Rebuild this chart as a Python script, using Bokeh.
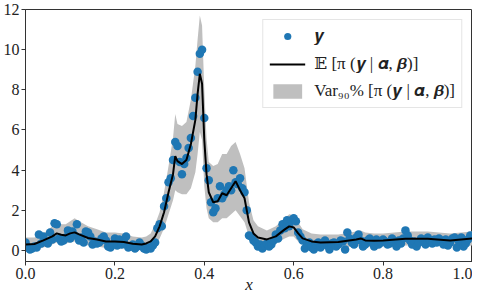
from bokeh.plotting import figure
from bokeh.models import (ColumnDataSource, Legend, LegendItem, FixedTicker,
                          PrintfTickFormatter, Range1d)
from bokeh.embed import file_html
from bokeh.resources import INLINE

# ---- observed points y ----
obs_x = [
    0.000, 0.005, 0.010, 0.015, 0.020, 0.025, 0.030, 0.035, 0.040, 0.045,
    0.050, 0.055, 0.060, 0.065, 0.070, 0.075, 0.080, 0.085, 0.090, 0.095,
    0.100, 0.105, 0.110, 0.115, 0.120, 0.125, 0.130, 0.135, 0.140, 0.145,
    0.150, 0.155, 0.160, 0.165, 0.170, 0.175, 0.180, 0.185, 0.190, 0.195,
    0.200, 0.205, 0.210, 0.215, 0.220, 0.225, 0.230, 0.235, 0.240, 0.245,
    0.250, 0.255, 0.260, 0.265, 0.270, 0.275, 0.280, 0.285, 0.290, 0.295,
    0.300, 0.305, 0.310, 0.315, 0.320, 0.325, 0.330, 0.335, 0.340, 0.345,
    0.350, 0.355, 0.360, 0.365, 0.370, 0.375, 0.380, 0.385, 0.390, 0.395,
    0.400, 0.405, 0.410, 0.415, 0.420, 0.425, 0.430, 0.435, 0.440, 0.445,
    0.450, 0.455, 0.460, 0.465, 0.470, 0.475, 0.480, 0.485, 0.490, 0.495,
    0.500, 0.505, 0.510, 0.515, 0.520, 0.525, 0.530, 0.535, 0.540, 0.545,
    0.550, 0.555, 0.560, 0.565, 0.570, 0.575, 0.580, 0.585, 0.590, 0.595,
    0.600, 0.605, 0.610, 0.615, 0.620, 0.625, 0.630, 0.635, 0.640, 0.645,
    0.650, 0.655, 0.660, 0.665, 0.670, 0.675, 0.680, 0.685, 0.690, 0.695,
    0.700, 0.705, 0.710, 0.715, 0.720, 0.725, 0.730, 0.735, 0.740, 0.745,
    0.750, 0.755, 0.760, 0.765, 0.770, 0.775, 0.780, 0.785, 0.790, 0.795,
    0.800, 0.805, 0.810, 0.815, 0.820, 0.825, 0.830, 0.835, 0.840, 0.845,
    0.850, 0.855, 0.860, 0.865, 0.870, 0.875, 0.880, 0.885, 0.890, 0.895,
    0.900, 0.905, 0.910, 0.915, 0.920, 0.925, 0.930, 0.935, 0.940, 0.945,
    0.950, 0.955, 0.960, 0.965, 0.970, 0.975, 0.980, 0.985, 0.990, 0.995,
]
obs_y = [
    0.40, 0.15, 0.05, 0.10, 0.20, 0.15, 0.80, 0.35, 0.70, 0.45,
    0.35, 0.90, 0.55, 1.35, 1.30, 0.60, 0.45, 0.50, 0.65, 1.00,
    0.60, 0.95, 0.75, 1.30, 0.50, 0.65, 0.40, 0.95, 0.90, 0.70,
    0.30, 0.45, 0.35, 0.40, 0.60, 0.70, 0.50, 0.20, 0.15, 0.30,
    0.60, 0.25, 0.55, 0.30, 0.45, 0.70, 0.15, 0.20, 0.30, 0.10,
    0.20, 0.40, 0.25, 0.10, 0.05, 0.15, 0.10, 0.25, 0.40, 1.10,
    1.30, 1.20, 2.20, 2.60, 3.40, 3.60, 4.50, 5.40, 5.20, 4.40,
    3.80, 4.30, 4.60, 5.10, 5.60, 6.70, 7.60, 8.90, 9.80, 10.00,
    6.60, 4.10, 3.50, 2.40, 1.90, 2.10, 2.60, 3.20, 2.60, 2.80,
    3.00, 3.20, 3.00, 4.00, 3.40, 3.30, 3.60, 3.10, 2.90, 2.00,
    0.75, 0.70, 0.50, 0.40, 0.20, 0.30, 0.10, 0.25, 0.35, 0.20,
    0.30, 0.50, 0.80, 0.60, 1.00, 1.30, 1.10, 1.50, 1.20, 1.50,
    1.60, 1.45, 0.90, 0.70, 0.50, 0.10, 0.25, 0.40, 0.15, 0.05,
    0.30, 0.40, 0.15, 0.30, 0.50, 0.25, 0.05, 0.35, 0.40, 0.20,
    0.30, 0.50, 0.45, 0.05, 0.90, 0.60, 0.40, 0.30, 0.65, 0.80,
    0.50, 0.20, 0.30, 0.50, 0.60, 0.40, 0.20, 0.55, 0.30, 0.40,
    0.55, 0.45, 0.30, 0.35, 0.60, 0.45, 0.20, 0.50, 0.35, 0.60,
    1.00, 0.75, 0.50, 0.30, 0.45, 0.20, 0.40, 0.60, 0.45, 0.30,
    0.65, 0.50, 0.35, 0.55, 0.40, 0.60, 0.50, 0.30, 0.55, 0.25,
    0.40, 0.60, 0.65, 0.15, 0.45, 0.65, 0.20, 0.35, 0.55, 0.75,
]

# ---- posterior mean and 90% band ----
curve_x = [0.00, 0.02, 0.04, 0.06, 0.07, 0.08, 0.09, 0.10, 0.11, 0.12,
           0.14, 0.16, 0.18, 0.20, 0.22, 0.24, 0.26, 0.27, 0.28, 0.29,
           0.30, 0.31, 0.32, 0.33, 0.335, 0.34, 0.35, 0.36, 0.37, 0.38,
           0.385, 0.39, 0.395, 0.40, 0.405, 0.41, 0.42, 0.43, 0.44, 0.45,
           0.46, 0.47, 0.48, 0.49, 0.50, 0.51, 0.52, 0.54, 0.56, 0.58,
           0.59, 0.60, 0.61, 0.62, 0.64, 0.66, 0.70, 0.74, 0.75, 0.76,
           0.78, 0.80, 0.85, 0.90, 0.95, 1.00]
mean_y = [0.30, 0.32, 0.50, 0.70, 0.85, 0.78, 0.75, 0.85, 0.90, 0.80,
          0.62, 0.55, 0.45, 0.45, 0.42, 0.33, 0.30, 0.35, 0.45, 0.70,
          1.20, 1.90, 2.90, 3.80, 4.70, 4.45, 4.30, 4.50, 5.30, 6.50,
          7.80, 8.80, 8.30, 5.50, 3.80, 2.90, 2.40, 2.45, 2.85, 2.75,
          3.10, 3.45, 3.00, 2.60, 1.40, 0.85, 0.65, 0.55, 0.70, 1.05,
          1.20, 1.15, 0.85, 0.60, 0.45, 0.40, 0.42, 0.55, 0.60, 0.50,
          0.48, 0.50, 0.58, 0.58, 0.50, 0.60]
lower_y = [0.00, 0.00, 0.15, 0.30, 0.40, 0.35, 0.35, 0.40, 0.45, 0.40,
           0.25, 0.20, 0.12, 0.12, 0.10, 0.05, 0.02, 0.05, 0.10, 0.30,
           0.60, 1.10, 1.80, 2.50, 3.00, 2.90, 2.80, 2.80, 3.10, 3.90,
           4.80, 5.90, 5.50, 3.20, 2.10, 1.60, 1.40, 1.40, 1.60, 1.60,
           1.80, 2.00, 1.70, 1.40, 0.70, 0.40, 0.30, 0.25, 0.35, 0.60,
           0.70, 0.70, 0.45, 0.30, 0.15, 0.10, 0.15, 0.20, 0.25, 0.20,
           0.15, 0.20, 0.25, 0.25, 0.20, 0.25]
upper_y = [0.65, 0.65, 0.85, 1.20, 1.35, 1.30, 1.30, 1.45, 1.60, 1.45,
           1.20, 1.05, 0.90, 0.90, 0.85, 0.70, 0.65, 0.70, 0.85, 1.30,
           1.90, 2.90, 4.20, 5.60, 6.80, 6.30, 6.20, 6.40, 7.50, 9.20,
           10.50, 11.70, 11.20, 8.00, 5.60, 4.40, 4.20, 4.30, 4.80, 4.80,
           5.20, 5.40, 4.80, 4.10, 2.40, 1.50, 1.20, 1.00, 1.20, 1.60,
           1.80, 1.75, 1.40, 1.05, 0.85, 0.80, 0.80, 0.95, 1.00, 0.90,
           0.85, 0.85, 0.95, 0.95, 0.85, 0.95]

x_ticks = [0.0, 0.2, 0.4, 0.6, 0.8, 1.0]
y_ticks = [0, 2, 4, 6, 8, 10, 12]

label_y = "𝒚"
label_mean = "𝔼 [π (𝒚 | 𝜶, 𝜷)]"
label_var = "Var₉₀% [π (𝒚 | 𝜶, 𝜷)]"
x_title = "x"

FONT = "'Liberation Serif', 'DejaVu Serif', serif"

pts = ColumnDataSource(dict(x=obs_x, y=obs_y))
crv = ColumnDataSource(dict(x=curve_x, m=mean_y, lo=lower_y, hi=upper_y))

p = figure(width=472, height=296, output_backend="svg", toolbar_location=None,
           x_range=Range1d(0, 1), y_range=Range1d(-0.55, 12),
           min_border_left=15, min_border_right=0, min_border_top=9,
           min_border_bottom=33)
p.grid.visible = False
p.outline_line_color = "#333333"
p.outline_line_width = 1
p.background_fill_color = "white"
p.border_fill_color = "white"

band = p.varea(x="x", y1="lo", y2="hi", source=crv, fill_color="#bfbfbf",
               fill_alpha=1.0)
sc = p.scatter(x="x", y="y", source=pts, size=8.5, fill_color="#1f77b4",
               line_color="#1f77b4", line_width=0)
ln = p.line(x="x", y="m", source=crv, line_color="black", line_width=2)

for ax in (p.xaxis[0], p.yaxis[0]):
    ax.axis_line_color = "#333333"
    ax.major_tick_line_color = "#333333"
    ax.major_tick_out = 4
    ax.major_tick_in = 0
    ax.minor_tick_out = 0
    ax.minor_tick_in = 0
    ax.major_label_text_font = FONT
    ax.major_label_text_font_size = "16px"
    ax.major_label_text_color = "#222222"
    ax.major_label_standoff = 2

p.xaxis.ticker = FixedTicker(ticks=x_ticks)
p.xaxis.formatter = PrintfTickFormatter(format="%.1f")
p.yaxis.ticker = FixedTicker(ticks=y_ticks)
p.xaxis.axis_label = x_title
p.xaxis.axis_label_text_font = FONT
p.xaxis.axis_label_text_font_style = "italic"
p.xaxis.axis_label_text_font_size = "17px"
p.xaxis.axis_label_standoff = -7
p.xaxis.axis_label_text_color = "#222222"

legend = Legend(items=[LegendItem(label=label_y, renderers=[sc]),
                       LegendItem(label=label_mean, renderers=[ln]),
                       LegendItem(label=label_var, renderers=[band])],
                location="top_right")
legend.label_text_font = FONT
legend.label_text_font_size = "17px"
legend.label_text_color = "#222222"
legend.border_line_color = "#cccccc"
legend.border_line_width = 1
legend.background_fill_alpha = 0.85
legend.glyph_width = 36
legend.glyph_height = 18
legend.label_height = 18
legend.spacing = 7
legend.padding = 6
legend.margin = 10
legend.label_standoff = 9
p.add_layout(legend)

open("out.html", "w").write(file_html(p, INLINE))
